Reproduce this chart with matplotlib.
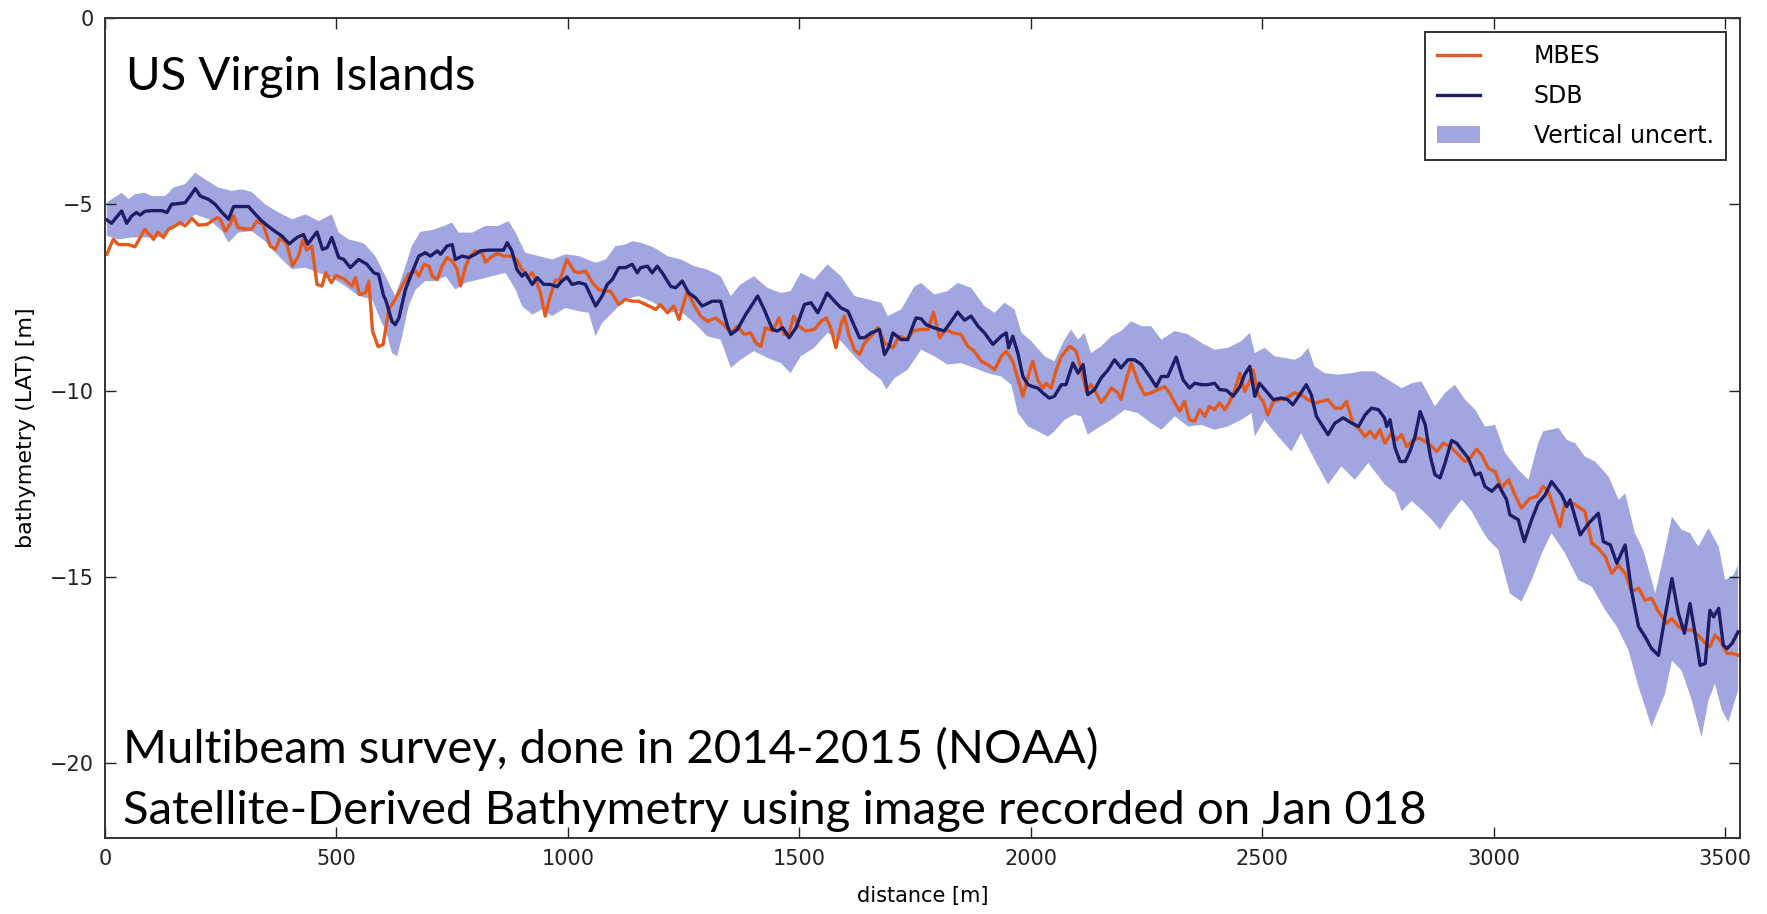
import numpy as np
import matplotlib.pyplot as plt

# Data (distance in m, bathymetry in m)

sdb_x = [4, 14, 36, 47, 58, 68, 76, 86, 101, 123, 134, 144, 173, 184, 195, 206, 224, 238, 253, 267,
         278, 296, 310, 325, 339, 361, 382, 398, 415, 429, 438, 458, 470, 480, 490, 505, 516, 530, 548, 566,
         581, 591, 602, 606, 620, 627, 635, 649, 663, 678, 692, 703, 718, 725, 739, 750, 757, 771, 786, 800,
         811, 829, 850, 861, 869, 879, 890, 901, 908, 923, 934, 948, 962, 977, 987, 998, 1009, 1024, 1038, 1060,
         1074, 1085, 1096, 1110, 1124, 1139, 1150, 1157, 1172, 1182, 1193, 1204, 1222, 1233, 1247, 1261, 1276, 1290, 1312, 1330,
         1345, 1352, 1366, 1384, 1410, 1424, 1442, 1453, 1464, 1478, 1493, 1511, 1525, 1540, 1560, 1576, 1590, 1605, 1619, 1630,
         1641, 1655, 1673, 1684, 1694, 1702, 1720, 1734, 1752, 1763, 1774, 1792, 1813, 1828, 1842, 1857, 1871, 1886, 1900, 1918,
         1936, 1947, 1952, 1961, 1972, 1983, 1994, 2004, 2015, 2026, 2040, 2051, 2066, 2076, 2091, 2102, 2113, 2123, 2138, 2152,
         2167, 2181, 2195, 2210, 2224, 2239, 2257, 2271, 2282, 2296, 2314, 2329, 2343, 2354, 2369, 2383, 2397, 2408, 2423, 2437,
         2452, 2462, 2473, 2484, 2494, 2509, 2524, 2541, 2555, 2566, 2581, 2595, 2606, 2617, 2631, 2642, 2657, 2675, 2693, 2708,
         2722, 2736, 2751, 2764, 2769, 2776, 2787, 2798, 2809, 2819, 2830, 2841, 2852, 2863, 2873, 2884, 2895, 2909, 2920, 2931,
         2945, 2960, 2971, 2981, 2996, 3010, 3028, 3035, 3053, 3066, 3082, 3096, 3111, 3125, 3147, 3158, 3165, 3187, 3205, 3226,
         3237, 3252, 3266, 3284, 3298, 3313, 3327, 3341, 3356, 3370, 3385, 3399, 3412, 3424, 3435, 3446, 3457, 3467, 3475, 3486,
         3496, 3504, 3515, 3528]
sdb_y = [-5.42, -5.51, -5.18, -5.51, -5.31, -5.22, -5.29, -5.19, -5.17, -5.17, -5.22, -5.00, -4.96, -4.78, -4.58, -4.78, -4.87, -5.00, -5.22, -5.40,
         -5.06, -5.06, -5.06, -5.27, -5.45, -5.67, -5.85, -6.06, -5.89, -5.81, -6.07, -5.74, -6.21, -6.16, -5.89, -6.43, -6.48, -6.70, -6.48, -6.61,
         -6.84, -6.88, -7.46, -7.55, -8.14, -8.23, -8.05, -7.29, -6.84, -6.39, -6.30, -6.39, -6.25, -6.34, -6.12, -6.08, -6.48, -6.39, -6.43, -6.34,
         -6.25, -6.23, -6.23, -6.23, -6.03, -6.25, -6.75, -6.93, -6.84, -7.15, -6.97, -7.15, -7.15, -7.21, -7.06, -6.95, -7.15, -7.10, -7.15, -7.73,
         -7.46, -7.15, -7.02, -6.70, -6.70, -6.61, -6.84, -6.70, -6.66, -6.84, -6.66, -6.84, -7.20, -7.24, -7.06, -7.38, -7.51, -7.73, -7.60, -7.60,
         -8.27, -8.49, -8.36, -7.96, -7.46, -7.82, -8.36, -8.40, -8.31, -8.58, -8.31, -7.69, -7.64, -7.91, -7.38, -7.60, -7.78, -7.87, -8.27, -8.58,
         -8.58, -8.45, -8.36, -9.03, -8.81, -8.45, -8.63, -8.63, -8.05, -8.07, -8.23, -8.32, -8.40, -8.14, -7.89, -8.11, -8.00, -8.27, -8.45, -8.76,
         -8.54, -8.45, -8.85, -8.54, -8.99, -9.62, -9.84, -9.89, -9.93, -10.06, -10.20, -10.15, -9.84, -9.84, -9.26, -9.53, -9.30, -10.11, -9.97, -9.66,
         -9.44, -9.17, -9.39, -9.17, -9.17, -9.30, -9.62, -9.89, -9.62, -9.62, -9.10, -9.71, -9.93, -9.80, -9.84, -9.84, -9.80, -9.97, -9.99, -10.15,
         -9.89, -9.57, -9.35, -10.15, -9.80, -10.02, -10.24, -10.20, -10.24, -10.38, -10.11, -9.84, -10.11, -10.69, -10.96, -11.18, -10.87, -10.73, -10.87, -10.96,
         -10.65, -10.47, -10.51, -10.73, -10.96, -10.78, -11.54, -11.90, -11.90, -11.63, -11.23, -10.56, -10.91, -11.76, -12.25, -12.34, -11.94, -11.34, -11.41, -11.59,
         -11.81, -12.26, -12.21, -12.57, -12.70, -12.52, -12.93, -13.33, -13.46, -14.05, -13.46, -13.02, -12.80, -12.44, -12.80, -13.11, -12.93, -13.87, -13.56, -13.29,
         -14.05, -14.14, -14.63, -14.14, -15.39, -16.33, -16.60, -16.92, -17.10, -16.07, -15.04, -15.98, -16.51, -15.71, -16.51, -17.37, -17.32, -15.89, -16.07, -15.84,
         -16.83, -16.92, -16.78, -16.47]

mbes_x = [4, 18, 29, 51, 65, 86, 105, 114, 126, 137, 152, 162, 173, 188, 202, 220, 242, 249, 260, 270,
          278, 288, 303, 317, 328, 342, 357, 368, 379, 393, 405, 418, 427, 436, 447, 458, 469, 477, 489, 499,
          516, 534, 541, 550, 563, 570, 578, 590, 601, 613, 627, 642, 656, 671, 678, 689, 700, 707, 718, 728,
          739, 750, 761, 768, 779, 789, 800, 815, 822, 833, 847, 861, 879, 890, 901, 915, 923, 930, 941, 951,
          962, 973, 983, 998, 1013, 1024, 1038, 1053, 1067, 1082, 1092, 1110, 1124, 1139, 1153, 1168, 1190, 1200, 1215, 1229,
          1240, 1258, 1272, 1287, 1301, 1319, 1337, 1352, 1366, 1381, 1395, 1406, 1417, 1427, 1442, 1456, 1467, 1478, 1488, 1499,
          1514, 1532, 1547, 1558, 1568, 1579, 1590, 1597, 1608, 1619, 1630, 1641, 1655, 1670, 1684, 1702, 1716, 1734, 1745, 1759,
          1778, 1790, 1803, 1817, 1831, 1849, 1864, 1878, 1893, 1907, 1922, 1936, 1947, 1961, 1976, 1983, 1994, 2004, 2015, 2026,
          2033, 2044, 2055, 2066, 2084, 2098, 2109, 2120, 2130, 2141, 2152, 2163, 2174, 2188, 2195, 2206, 2217, 2231, 2246, 2260,
          2275, 2289, 2300, 2311, 2322, 2332, 2343, 2354, 2365, 2376, 2386, 2397, 2408, 2419, 2430, 2441, 2452, 2462, 2473, 2480,
          2491, 2502, 2512, 2524, 2538, 2552, 2570, 2584, 2599, 2613, 2628, 2642, 2657, 2671, 2682, 2696, 2711, 2722, 2733, 2744,
          2754, 2765, 2779, 2790, 2801, 2812, 2823, 2837, 2852, 2866, 2877, 2891, 2906, 2924, 2938, 2949, 2963, 2974, 2988, 3003,
          3017, 3032, 3046, 3060, 3078, 3093, 3107, 3118, 3129, 3143, 3154, 3172, 3187, 3197, 3212, 3226, 3241, 3255, 3269, 3284,
          3298, 3313, 3327, 3341, 3356, 3374, 3385, 3399, 3413, 3428, 3442, 3457, 3467, 3478, 3489, 3504, 3515, 3528]
mbes_y = [-6.34, -5.94, -6.08, -6.08, -6.14, -5.67, -5.94, -5.74, -5.89, -5.67, -5.58, -5.49, -5.58, -5.38, -5.56, -5.54, -5.36, -5.40, -5.72, -5.54,
          -5.31, -5.63, -5.66, -5.67, -5.45, -5.54, -6.12, -6.21, -5.89, -6.07, -6.65, -6.39, -5.96, -6.23, -6.12, -7.15, -7.19, -6.84, -7.10, -6.91,
          -7.00, -7.19, -6.97, -7.42, -7.37, -7.06, -8.40, -8.82, -8.76, -7.82, -7.55, -7.19, -6.88, -6.79, -6.93, -6.61, -6.66, -6.93, -7.02, -6.66,
          -6.43, -6.52, -6.75, -7.19, -6.66, -6.39, -6.25, -6.32, -6.55, -6.43, -6.32, -6.39, -6.39, -6.50, -6.75, -6.93, -6.84, -7.02, -7.38, -8.00,
          -7.46, -7.04, -7.02, -6.48, -6.79, -6.84, -6.79, -7.10, -7.29, -7.33, -7.33, -7.69, -7.55, -7.60, -7.60, -7.69, -7.82, -7.69, -7.91, -7.73,
          -8.09, -7.33, -7.69, -8.00, -8.14, -8.05, -8.23, -8.45, -8.27, -8.49, -8.45, -8.72, -8.81, -8.31, -8.40, -8.05, -8.49, -8.45, -8.00, -8.27,
          -8.40, -8.36, -8.14, -8.05, -8.31, -8.85, -8.23, -8.00, -8.54, -8.90, -9.03, -8.72, -8.54, -8.31, -8.72, -8.85, -8.54, -8.63, -8.40, -8.36,
          -8.36, -7.90, -8.58, -8.36, -8.45, -8.49, -8.81, -8.94, -9.21, -9.30, -9.44, -9.08, -8.94, -9.21, -9.84, -10.15, -9.62, -9.21, -9.71, -9.93,
          -9.80, -9.93, -9.44, -9.08, -8.81, -8.94, -9.44, -10.02, -9.84, -10.06, -10.31, -10.15, -9.93, -10.06, -10.24, -9.71, -9.26, -9.75, -10.11, -10.06,
          -9.97, -9.89, -10.06, -10.33, -10.55, -10.29, -10.78, -10.82, -10.51, -10.69, -10.42, -10.51, -10.33, -10.51, -10.29, -9.97, -9.53, -10.02, -9.75, -9.44,
          -10.11, -10.29, -10.65, -10.29, -10.24, -10.20, -10.06, -10.11, -10.24, -10.33, -10.29, -10.24, -10.47, -10.47, -10.29, -10.87, -11.05, -11.23, -11.09, -11.27,
          -11.05, -11.41, -11.14, -11.32, -11.18, -11.50, -11.36, -11.27, -11.36, -11.50, -11.63, -11.41, -11.50, -11.72, -11.90, -11.81, -11.57, -11.72, -12.08, -12.17,
          -12.61, -12.39, -12.80, -13.15, -12.89, -12.84, -12.57, -12.70, -13.11, -13.64, -13.02, -13.02, -13.15, -13.24, -14.09, -14.23, -14.45, -14.90, -14.68, -14.90,
          -15.39, -15.30, -15.62, -15.57, -15.93, -16.24, -16.11, -16.33, -16.42, -16.42, -16.56, -16.78, -16.87, -16.56, -16.69, -17.05, -17.05, -17.10]

upper_x = [4, 36, 51, 65, 86, 101, 130, 148, 173, 195, 216, 245, 274, 296, 317, 346, 375, 404, 433, 462,
           490, 505, 526, 555, 562, 584, 606, 627, 642, 663, 681, 707, 736, 750, 764, 793, 822, 850, 872, 887,
           908, 937, 966, 995, 1024, 1060, 1082, 1103, 1124, 1139, 1157, 1186, 1215, 1244, 1273, 1301, 1330, 1352, 1373, 1402,
           1431, 1460, 1481, 1503, 1532, 1561, 1590, 1619, 1648, 1677, 1691, 1720, 1749, 1763, 1792, 1820, 1842, 1871, 1900, 1922,
           1943, 1965, 1980, 2001, 2030, 2051, 2073, 2087, 2102, 2116, 2130, 2152, 2174, 2195, 2217, 2239, 2260, 2282, 2311, 2340,
           2369, 2397, 2426, 2455, 2473, 2484, 2505, 2527, 2548, 2570, 2584, 2599, 2613, 2635, 2664, 2693, 2714, 2743, 2772, 2801,
           2823, 2844, 2873, 2895, 2916, 2938, 2960, 2981, 3003, 3025, 3053, 3075, 3096, 3107, 3140, 3158, 3176, 3197, 3219, 3248,
           3270, 3284, 3305, 3323, 3349, 3370, 3385, 3406, 3424, 3442, 3464, 3486, 3500, 3518, 3528]
upper_y = [-4.95, -4.69, -4.86, -4.73, -4.69, -4.78, -4.78, -4.55, -4.46, -4.15, -4.33, -4.55, -4.64, -4.60, -4.67, -5.00, -5.22, -5.40, -5.27, -5.45,
           -5.27, -5.76, -5.94, -6.03, -6.08, -6.39, -6.93, -7.46, -6.93, -6.12, -5.74, -5.69, -5.56, -5.49, -5.76, -5.76, -5.58, -5.58, -5.45, -5.76,
           -6.30, -6.39, -6.48, -6.34, -6.39, -6.57, -6.48, -6.12, -6.08, -5.99, -6.03, -6.16, -6.39, -6.48, -6.66, -6.75, -6.93, -7.46, -7.15, -6.93,
           -7.24, -7.38, -7.33, -6.84, -7.02, -6.61, -6.93, -7.46, -7.55, -7.64, -8.00, -7.82, -7.20, -7.11, -7.42, -7.33, -7.11, -7.24, -7.73, -7.91,
           -7.64, -7.82, -8.45, -8.67, -9.08, -9.21, -8.63, -8.36, -8.63, -8.45, -8.99, -8.81, -8.54, -8.40, -8.14, -8.27, -8.27, -8.63, -8.40, -8.49,
           -8.72, -8.90, -8.85, -8.67, -8.45, -8.99, -8.85, -9.08, -9.12, -9.17, -9.08, -8.85, -9.35, -9.53, -9.57, -9.53, -9.48, -9.48, -9.71, -9.93,
           -9.80, -9.75, -10.42, -10.06, -9.84, -10.24, -10.51, -10.96, -10.92, -11.68, -12.12, -12.39, -11.41, -11.09, -11.00, -11.32, -11.41, -11.77, -11.90, -12.30,
           -12.93, -12.75, -13.82, -14.27, -15.44, -14.27, -13.38, -13.73, -13.82, -14.18, -13.69, -14.18, -15.08, -14.95, -14.68]

lower_x = [4, 29, 58, 86, 115, 144, 173, 195, 224, 253, 267, 288, 317, 346, 375, 404, 433, 462, 490, 519,
           548, 577, 598, 606, 620, 631, 642, 656, 671, 692, 714, 736, 757, 779, 808, 836, 865, 887, 901, 923,
           944, 966, 995, 1024, 1045, 1060, 1074, 1096, 1124, 1153, 1186, 1215, 1244, 1273, 1301, 1330, 1352, 1373, 1402, 1431,
           1460, 1481, 1503, 1532, 1561, 1590, 1619, 1648, 1677, 1688, 1706, 1734, 1763, 1792, 1820, 1849, 1878, 1907, 1936, 1958,
           1972, 1994, 2015, 2037, 2051, 2073, 2095, 2109, 2123, 2145, 2174, 2203, 2231, 2260, 2282, 2311, 2340, 2369, 2397, 2426,
           2455, 2477, 2484, 2505, 2534, 2563, 2584, 2613, 2642, 2671, 2700, 2729, 2765, 2787, 2801, 2823, 2844, 2866, 2884, 2902,
           2931, 2952, 2974, 2988, 3010, 3035, 3060, 3082, 3104, 3125, 3154, 3183, 3212, 3241, 3266, 3291, 3313, 3341, 3370, 3385,
           3406, 3428, 3449, 3464, 3478, 3493, 3507, 3528]
lower_y = [-5.85, -5.94, -5.89, -5.89, -5.89, -5.67, -5.49, -5.27, -5.40, -5.72, -6.03, -5.76, -5.72, -5.99, -6.39, -6.74, -6.70, -6.84, -6.97, -7.19,
           -7.46, -7.55, -8.18, -8.36, -8.99, -9.08, -8.54, -7.73, -7.29, -7.06, -7.06, -6.93, -7.29, -7.10, -7.02, -6.93, -6.84, -7.29, -7.73, -7.96,
           -7.82, -8.00, -7.78, -7.87, -7.91, -8.54, -8.18, -7.91, -7.55, -7.46, -7.64, -7.91, -7.87, -8.18, -8.54, -8.63, -9.39, -9.17, -8.94, -9.12,
           -9.26, -9.53, -9.08, -8.85, -8.45, -8.67, -9.08, -9.44, -9.71, -9.97, -9.66, -9.44, -8.90, -9.08, -9.30, -9.26, -9.39, -9.53, -9.62, -9.84,
           -10.60, -10.96, -11.09, -11.23, -11.09, -10.78, -10.64, -10.69, -11.18, -11.00, -10.78, -10.51, -10.60, -10.87, -11.05, -10.69, -10.96, -10.92, -11.05, -10.96,
           -10.78, -10.60, -11.23, -10.78, -11.23, -11.63, -11.14, -11.85, -12.52, -12.03, -12.39, -11.94, -12.52, -12.74, -13.23, -12.96, -13.19, -13.46, -13.73, -13.37,
           -12.92, -13.23, -13.73, -14.00, -14.27, -15.44, -15.66, -15.08, -14.36, -13.82, -14.36, -15.08, -15.26, -15.89, -16.33, -16.96, -17.95, -19.02, -18.13, -17.24,
           -17.51, -18.31, -19.30, -18.31, -17.86, -18.58, -18.89, -18.04]

x_ticks = [0, 500, 1000, 1500, 2000, 2500, 3000, 3500]
y_ticks = [0, -5, -10, -15, -20]

# Plot

fig = plt.figure(figsize=(17.67, 9.14), dpi=100)
ax = fig.add_axes([0.0594, 0.0832, 0.9253, 0.8972])

band_x = np.concatenate([upper_x, lower_x[::-1]])
band_y = np.concatenate([upper_y, lower_y[::-1]])
band, = ax.fill(band_x, band_y, color='#a1a6e0', lw=0, zorder=1)
l_mbes, = ax.plot(mbes_x, mbes_y, color='#e35a1f', lw=2.4, zorder=2)
l_sdb, = ax.plot(sdb_x, sdb_y, color='#1b1e66', lw=2.4, zorder=3)

ax.set_xlim(0, 3532)
ax.set_ylim(-22, 0)
ax.set_xticks(x_ticks)
ax.set_yticks(y_ticks)
ax.tick_params(direction='in', top=True, right=True, length=8, width=1,
               labelsize=15, pad=8, colors='#222222')
for s in ax.spines.values():
    s.set_linewidth(1.4)
    s.set_color('#333333')

ax.set_xlabel('distance [m]', fontsize=15, labelpad=12)
ax.set_ylabel('bathymetry (LAT) [m]', fontsize=16, labelpad=10)

leg = ax.legend([l_mbes, l_sdb, band], ['MBES', 'SDB', 'Vertical uncert.'],
                loc='upper right', fontsize=17, frameon=True, fancybox=False,
                borderaxespad=0.6, handlelength=1.8, labelspacing=0.68,
                handletextpad=2.3, borderpad=0.5)
leg.get_frame().set_edgecolor('black')
leg.get_frame().set_linewidth(1.4)

tfont = dict(family='Lato', fontweight='normal', fontsize=34, color='black')
ax.text(0.013, 0.912, 'US Virgin Islands', transform=ax.transAxes, va='baseline', **tfont)
ax.text(0.011, 0.092, 'Multibeam survey, done in 2014-2015 (NOAA)', transform=ax.transAxes,
        va='baseline', **tfont)
ax.text(0.011, 0.017, 'Satellite-Derived Bathymetry using image recorded on Jan 018',
        transform=ax.transAxes, va='baseline', **tfont)

plt.savefig('out.png', dpi=100)
